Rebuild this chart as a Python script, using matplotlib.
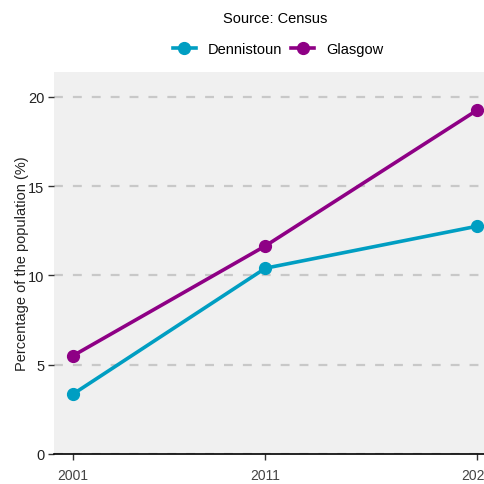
import matplotlib
matplotlib.use("Agg")
import matplotlib.pyplot as plt
from matplotlib.lines import Line2D

years = [2001, 2011, 2022]
dennistoun = [3.35, 10.4, 12.75]
glasgow = [5.5, 11.65, 19.25]
series_names = ["Dennistoun", "Glasgow"]
colours = ["#009EC2", "#8E0085"]

plt.rcParams['font.family'] = ['Liberation Sans', 'DejaVu Sans']

fig = plt.figure(figsize=[4.84, 4.85], dpi=100)
# panel runs past the right edge of the picture, as in the reference
ax = fig.add_axes([54/484, 30.3/485, 442/484, 381.7/485])
ax.set_facecolor("#F0F0F0")

for vals, col in zip([dennistoun, glasgow], colours):
    ax.plot(years, vals, color=col, lw=2.6, marker="o", ms=8.5, zorder=3)

ax.set_xlim(2000, 2023)
ax.set_ylim(0, 21.4)
ax.set_yticks([0, 5, 10, 15, 20])
ax.set_xticks(years)
ax.set_xticklabels([str(y) for y in years])
ax.yaxis.grid(True, color="#C8C8C8", ls=(0, (4, 4.5)), lw=1.6)
ax.set_axisbelow(True)

for s in ["top", "right", "left"]:
    ax.spines[s].set_visible(False)
ax.spines["bottom"].set_color("black")
ax.spines["bottom"].set_linewidth(1.2)
ax.spines["bottom"].set_zorder(4)

ax.tick_params(axis="y", length=4, width=1, color="#333333", labelsize=10.5,
               labelcolor="#222222", pad=3)
ax.tick_params(axis="x", length=4, width=1, color="#333333", labelsize=10,
               labelcolor="#444444", pad=6)
ax.set_ylabel("Percentage of the population (%)", fontsize=10.5, color="#222222", labelpad=-0.5)

fig.text(275/484, 1 - 19/485, "Source: Census", ha="center", va="center", fontsize=10.5)

handles = [Line2D([0], [0], color=c, lw=2.6, marker="o", ms=8.5) for c in colours]
leg = fig.legend(handles, series_names, loc="center", bbox_to_anchor=(278/484, 1 - 50/485),
                 ncol=2, frameon=False, fontsize=10.5, handlelength=1.6,
                 handletextpad=0.8, columnspacing=0.6)

plt.savefig("out.png", dpi=100)
plt.close(fig)
